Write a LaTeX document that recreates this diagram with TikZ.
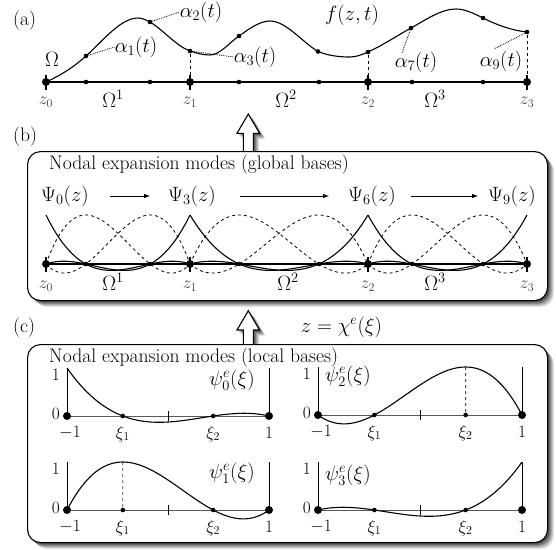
\documentclass[tikz,border=0pt]{standalone}
\usetikzlibrary{calc}
\newcommand\drawpanel[5]{%
  \draw[black!65, line width=1pt] (#1-#2,#3) -- (#1+#2,#3);
  \draw[line width=0.9pt] (#1-#2,#3-48) -- (#1-#2,#3);
  \draw[line width=0.9pt] (#1+#2,#3-48) -- (#1+#2,#3);
  \draw[line width=0.8pt] (#1,#3-5) -- (#1,#3+5);
  \draw[curve] plot[domain=-1:1,samples=70] ({#1+#2*\x},{#3-48*#4(\x)});
  \node[bigdot] (#5a) at (#1-#2,#3) {};
  \node[smalldot] (#5b) at (#1-0.4472136*#2,#3) {};
  \node[smalldot] (#5c) at (#1+0.4472136*#2,#3) {};
  \node[bigdot] (#5d) at (#1+#2,#3) {};
  \node[tick, anchor=east] (#5one) at (#1-#2-7,#3-41) {$1$};
  \node[tick, anchor=east] (#5zero) at (#1-#2-7,#3-2) {$0$};
  \node[tick] (#5m) at (#1-#2+3,#3+17) {$-1$};
  \node[tick] (#5x1) at (#1-0.4472136*#2,#3+18) {$\xi_1$};
  \node[tick] (#5x2) at (#1+0.4472136*#2,#3+18) {$\xi_2$};
  \node[tick] (#5p) at (#1+#2,#3+17) {$1$};
}
\begin{document}
\begin{tikzpicture}[x=1pt,y=-1pt,
  declare function={p0(\t)=(5*\t*\t-1)*(1-\t)/8;
                     p3(\t)=(5*\t*\t-1)*(1+\t)/8;
                     p1(\t)=(\t*\t-1)*(\t-0.4472136)/0.7155418;
                     p2(\t)=(1-\t*\t)*(\t+0.4472136)/0.7155418;},
  txt/.style={font=\fontsize{19.6}{23}\selectfont, inner sep=0pt},
  lab/.style={font=\fontsize{19.5}{23}\selectfont, inner sep=0pt},
  tick/.style={font=\fontsize{18}{21}\selectfont, inner sep=0pt},
  zlab/.style={font=\fontsize{16.5}{19}\selectfont, text=black!75, inner sep=0pt},
  bigdot/.style={circle, fill, inner sep=0pt, minimum size=8pt},
  smalldot/.style={circle, fill, inner sep=0pt, minimum size=4.6pt},
  axis/.style={line width=1.4pt},
  curve/.style={line width=1.1pt},
  dcurve/.style={line width=0.8pt, dashed},
  leader/.style={densely dotted, line width=0.8pt},
  vdash/.style={dashed, line width=0.9pt},
  panelbox/.style={draw, line width=1.1pt, fill=white, rounded corners=13pt},
  blockarrow/.style={draw, line width=1.1pt, fill=white, line join=miter}
]
\useasboundingbox (0,0) rectangle (556,549);

% ---------------- (a) ----------------
\node[txt, anchor=west] (la) at (13,21) {(a)};
\draw[axis] (46,82) -- (527,82);
\foreach \n/\xx in {z0/46, z1/190, z2/368, z3/527}{
  \node[bigdot] (\n) at (\xx,82) {};
  \draw[line width=1.1pt] (\xx,75) -- (\xx,90);
}
\foreach \n/\xx in {e1a/86, e1b/150, e2a/239, e2b/319, e3a/412, e3b/483}{
  \node[smalldot] (\n) at (\xx,82) {};
}
\draw[curve] (46,82) .. controls (59.33,76) and (72.67,68) .. (86,56)
  .. controls (103.33,40.4) and (120.67,18) .. (138,18)
  .. controls (142,18) and (146,20) .. (150,22)
  .. controls (163.33,30) and (176.67,46.33) .. (190,51)
  .. controls (196.67,53.33) and (203.33,55) .. (210,55)
  .. controls (219.67,55) and (229.33,42.77) .. (239,36)
  .. controls (249.33,28.77) and (259.67,21) .. (270,21)
  .. controls (286,21) and (302,41.9) .. (318,51.5)
  .. controls (328.67,55.77) and (339.33,57) .. (350,57)
  .. controls (356,57) and (362,54.7) .. (368,52)
  .. controls (382.33,45.55) and (396.67,35.88) .. (411,28)
  .. controls (426,19.75) and (441,9) .. (456,9)
  .. controls (465,9) and (474,13.5) .. (483,18)
  .. controls (497.67,25.33) and (512.33,30.53) .. (527,32);
\node[smalldot] (c1) at (86,56) {};
\node[smalldot] (c2) at (150,22) {};
\node[smalldot] (c3) at (190,51) {};
\node[smalldot] (c4) at (239,36) {};
\node[smalldot] (c5) at (318,51.5) {};
\node[smalldot] (c6) at (368,52) {};
\node[smalldot] (c7) at (411,28) {};
\node[smalldot] (c8) at (483,18) {};
\node[smalldot] (c9) at (527,32) {};
\draw[vdash] (c3) -- (z1);
\draw[vdash] (c6) -- (z2);
\draw[vdash] (c9) -- (z3);
\node[lab] (Om) at (52,59) {$\Omega$};
\node[lab] (fz) at (352,15) {$f(z,t)$};
\node[lab] (a1) at (136,47) {$\alpha_1(t)$};
\node[lab] (a2) at (201,12) {$\alpha_2(t)$};
\node[lab] (a3) at (255,57) {$\alpha_3(t)$};
\node[lab] (a7) at (416,62) {$\alpha_7(t)$};
\node[lab] (a9) at (501,61) {$\alpha_9(t)$};
\coordinate (a7e) at (402,53);
\coordinate (a9e) at (494,49);
\draw[leader] (c1) -- (a1.west);
\draw[leader] (c2) -- (a2.west);
\draw[leader] (c3) -- (a3.west);
\draw[leader] (c7) -- (a7e);
\draw[leader] (c9) -- (a9e);
\node[zlab] (za0) at (46,102) {$z_0$};
\node[zlab] (za1) at (190,102) {$z_1$};
\node[zlab] (za2) at (368,102) {$z_2$};
\node[zlab] (za3) at (527,102) {$z_3$};
\node[lab] (oa1) at (113,99) {$\Omega^1$};
\node[lab] (oa2) at (286,99) {$\Omega^2$};
\node[lab] (oa3) at (435,99) {$\Omega^3$};

% ---------------- arrows ----------------
\foreach \s/\op in {6/0.10, 5/0.13, 4/0.16, 3/0.2, 2/0.25}{
  \fill[black, opacity=\op] (243.3+\s,151) -- (243.3+\s,133.3+\s) -- (237+\s,133.3+\s) -- (248.3+\s,114+\s)
     -- (259.6+\s,133.3+\s) -- (253.3+\s,133.3+\s) -- (253.3+\s,151) -- cycle;
  \fill[black, opacity=\op] (243.3+\s,344) -- (243.3+\s,330+\s) -- (237+\s,330+\s) -- (248.3+\s,310.7+\s)
     -- (259.6+\s,330+\s) -- (253.3+\s,330+\s) -- (253.3+\s,344) -- cycle;
}
\path[blockarrow] (243.3,151) -- (243.3,133.3) -- (237,133.3) -- (248.3,114)
     -- (259.6,133.3) -- (253.3,133.3) -- (253.3,151);
\path[blockarrow] (243.3,344) -- (243.3,330) -- (237,330) -- (248.3,310.7)
     -- (259.6,330) -- (253.3,330) -- (253.3,344);

% ---------------- (b) ----------------
\node[txt, anchor=west] (lb) at (13,137) {(b)};
\foreach \s/\op in {7/0.10, 6/0.12, 5/0.15, 4/0.18, 3/0.22, 2/0.28}{
  \fill[black, opacity=\op, rounded corners=13pt] (27+\s,151+\s) rectangle (547+\s,300+\s);
}
\node[panelbox, minimum width=520pt, minimum height=149pt, anchor=north west] (boxb) at (27,151) {};
\node[txt, anchor=west] (tb) at (49,165) {Nodal expansion modes (global bases)};
\node[lab] (P0) at (65,196) {$\Psi_0(z)$};
\node[lab] (P3) at (192,196) {$\Psi_3(z)$};
\node[lab] (P6) at (372,196) {$\Psi_6(z)$};
\node[lab] (P9) at (512,196) {$\Psi_9(z)$};
\draw[-latex, line width=1pt] (110,196) -- (150,196);
\draw[-latex, line width=1pt] (240,196) -- (329,196);
\draw[-latex, line width=1pt] (411,196) -- (478,196);
\draw[axis] (46,264) -- (527,264);
\foreach \a/\b in {46/190, 190/368, 368/527}{
  \pgfmathsetmacro\cx{(\a+\b)/2}
  \pgfmathsetmacro\hh{(\b-\a)/2}
  \draw[dcurve] plot[domain=-1:1,samples=60] ({\cx+\hh*\x},{264-49*p1(\x)});
  \draw[dcurve] plot[domain=-1:1,samples=60] ({\cx+\hh*\x},{264-49*p2(\x)});
  \draw[curve] plot[domain=-1:1,samples=60] ({\cx+\hh*\x},{264-49*p0(\x)});
  \draw[curve] plot[domain=-1:1,samples=60] ({\cx+\hh*\x},{264-49*p3(\x)});
}
\foreach \n/\xx in {zb0/46, zb1/190, zb2/368, zb3/527}{
  \node[bigdot] (\n) at (\xx,264) {};
  \draw[line width=1.1pt] (\xx,257) -- (\xx,272);
}
\foreach \n/\xx in {eb1a/86, eb1b/150, eb2a/239, eb2b/319, eb3a/412, eb3b/483}{
  \node[smalldot] (\n) at (\xx,264) {};
}
\node[zlab] (zl0) at (46,286) {$z_0$};
\node[zlab] (zl1) at (190,286) {$z_1$};
\node[zlab] (zl2) at (368,286) {$z_2$};
\node[zlab] (zl3) at (527,286) {$z_3$};
\node[lab] (ob1) at (113,282) {$\Omega^1$};
\node[lab] (ob2) at (288,282) {$\Omega^2$};
\node[lab] (ob3) at (435,282) {$\Omega^3$};

% ---------------- (c) ----------------
\node[txt, anchor=west] (lc) at (13,328) {(c)};
\node[txt] (chi) at (341.5,327) {$z=\chi^e(\xi)$};
\foreach \s/\op in {7/0.10, 6/0.12, 5/0.15, 4/0.18, 3/0.22, 2/0.28}{
  \fill[black, opacity=\op, rounded corners=13pt] (27+\s,344+\s) rectangle (547+\s,542+\s);
}
\node[panelbox, minimum width=520pt, minimum height=198pt, anchor=north west] (boxc) at (27,344) {};
\node[txt, anchor=west] (tc) at (49,358) {Nodal expansion modes (local bases)};

\drawpanel{168}{101}{416}{p0}{q0}
\drawpanel{168}{101}{510}{p1}{q1}
\drawpanel{420}{102}{415}{p2}{q2}
\drawpanel{420}{102}{510}{p3}{q3}
\draw[vdash, black!70, line width=0.8pt] (168-45.17,510-48) -- (q1b);
\draw[vdash, black!70, line width=0.8pt] (420+45.6,415-48) -- (q2c);
\node[lab] (s0) at (232,380) {$\psi^e_0(\xi)$};
\node[lab] (s1) at (232,473) {$\psi^e_1(\xi)$};
\node[lab] (s2) at (348,376) {$\psi^e_2(\xi)$};
\node[lab] (s3) at (348,475) {$\psi^e_3(\xi)$};
\end{tikzpicture}
\end{document}
